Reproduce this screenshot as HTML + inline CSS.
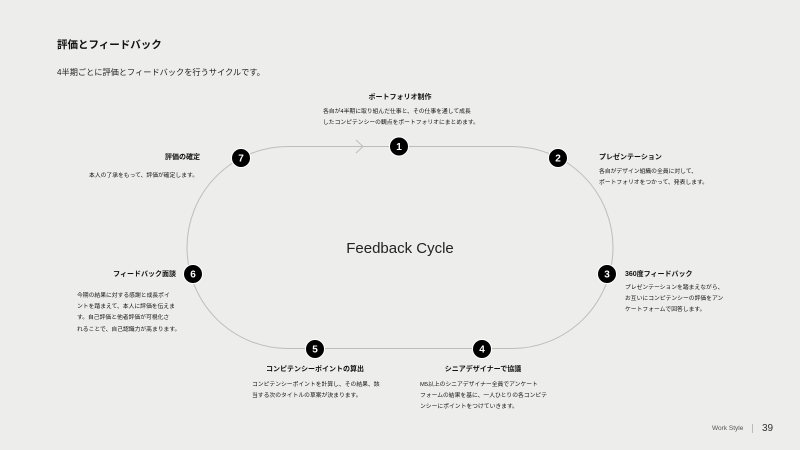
<!DOCTYPE html>
<html><head><meta charset="utf-8"><style>
body{margin:0;width:800px;height:450px;background:#ededec;font-family:"Liberation Sans","Noto Sans CJK JP",sans-serif;color:#111;position:relative;overflow:hidden}
.t{position:absolute;white-space:nowrap}
h1{position:absolute;left:57px;top:37px;margin:0;font-size:10.5px;font-weight:bold;line-height:16px}
.sub{left:57px;top:67px;font-size:8.2px;line-height:12px;color:#222}
.h{font-size:7px;font-weight:bold;line-height:10px}
.d{font-size:5.8px;line-height:11.2px;color:#111}
.r{text-align:right}
.c{transform:translateX(-50%);text-align:center}
</style></head><body>
<h1>評価とフィードバック</h1>
<div class="t sub">4半期ごとに評価とフィードバックを行うサイクルです。</div>
<svg width="800" height="450" style="position:absolute;left:0;top:0">
<path d="M288 146.5 H512 A101 101 0 0 1 512 348.5 H288 A101 101 0 0 1 288 146.5 Z" fill="none" stroke="#bdbdbd" stroke-width="1"/>
<path d="M356 140 L363 146.5 L356 153" fill="none" stroke="#bdbdbd" stroke-width="1"/>
<g fill="#000" stroke="#fff" stroke-width="1">
<circle cx="399" cy="146.5" r="9.5"/><circle cx="558" cy="158" r="9.5"/><circle cx="607" cy="274" r="9.5"/>
<circle cx="482" cy="349" r="9.5"/><circle cx="315" cy="349" r="9.5"/><circle cx="193" cy="274" r="9.5"/><circle cx="241" cy="158" r="9.5"/>
</g>
<g fill="#fff" font-family="Liberation Sans" font-weight="bold" font-size="10" text-anchor="middle">
<text x="399" y="150">1</text><text x="558" y="161.5">2</text><text x="607" y="277.5">3</text>
<text x="482" y="352.5">4</text><text x="315" y="352.5">5</text><text x="193" y="277.5">6</text><text x="241" y="161.5">7</text>
</g>
<text x="400" y="253" text-anchor="middle" font-family="Liberation Sans" font-size="15" fill="#222">Feedback Cycle</text>
</svg>
<div class="t h c" style="left:400px;top:93px">ポートフォリオ制作</div>
<div class="t d" style="left:323px;top:107px">各自が4半期に取り組んだ仕事と、その仕事を通して成長<br>したコンピテンシーの観点をポートフォリオにまとめます。</div>
<div class="t h" style="left:599px;top:153px">プレゼンテーション</div>
<div class="t d" style="left:599px;top:167px">各自がデザイン組織の全員に対して、<br>ポートフォリオをつかって、発表します。</div>
<div class="t h" style="left:625px;top:270px">360度フィードバック</div>
<div class="t d" style="left:625px;top:283px">プレゼンテーションを踏まえながら、<br>お互いにコンピテンシーの評価をアン<br>ケートフォームで回答します。</div>
<div class="t h c" style="left:483px;top:365px">シニアデザイナーで協議</div>
<div class="t d" style="left:420px;top:380px">M5以上のシニアデザイナー全員でアンケート<br>フォームの結果を基に、一人ひとりの各コンピテ<br>ンシーにポイントをつけていきます。</div>
<div class="t h c" style="left:315px;top:365px">コンピテンシーポイントの算出</div>
<div class="t d" style="left:252px;top:380px">コンピテンシーポイントを計算し、その結果、該<br>当する次のタイトルの草案が決まります。</div>
<div class="t h r" style="right:624px;top:270px">フィードバック面談</div>
<div class="t d" style="left:77px;top:291px">今期の結果に対する感謝と成長ポイ<br>ントを踏まえて、本人に評価を伝えま<br>す。自己評価と他者評価が可視化さ<br>れることで、自己認識力が高まります。</div>
<div class="t h r" style="right:600px;top:153px">評価の確定</div>
<div class="t d r" style="right:602px;top:171px">本人の了承をもって、評価が確定します。</div>
<div class="t" style="left:712px;top:425px;font-size:6.5px;color:#555">Work Style</div>
<div style="position:absolute;left:752px;top:424px;width:1px;height:9px;background:#bbb"></div>
<div class="t" style="left:762px;top:423px;font-size:10px;color:#333">39</div>
</body></html>
